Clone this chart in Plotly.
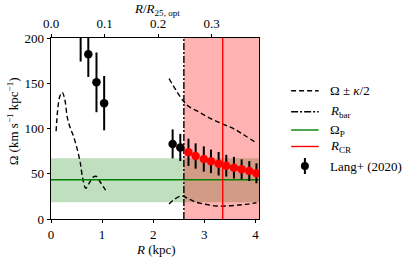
import plotly.graph_objects as go

# ---------------- data ----------------
inner_R = [0.10, 0.13, 0.17, 0.22, 0.27, 0.32, 0.38, 0.43, 0.50, 0.57, 0.62, 0.68, 0.75, 0.82, 0.89, 0.95, 1.02, 1.09]
inner_omega = [97, 120, 135, 140, 132, 112, 100, 93, 80, 63, 45, 34, 40, 46, 47, 42, 36, 30]

upper_R = [2.31, 2.45, 2.58, 2.68, 2.90, 3.16, 3.40, 3.60, 3.80, 4.02]
upper_omega = [155, 142, 131, 125, 118, 110, 104, 99, 92, 84]

lower_R = [2.31, 2.42, 2.56, 2.70, 2.84, 3.05, 3.23, 3.45, 3.68, 3.85, 4.02]
lower_omega = [16.6, 22, 25.4, 22, 18.5, 16, 14.4, 14.5, 15.5, 16.5, 18]

lang_black_R = [0.58, 0.73, 0.89, 1.04, 2.38, 2.53]
lang_black_omega = [212, 182, 151, 128, 83, 79]
lang_black_err = [38, 25, 33, 30, 16, 15]

lang_red_R = [2.69, 2.83, 2.99, 3.13, 3.28, 3.43, 3.58, 3.73, 3.88, 4.02]
lang_red_omega = [73.7, 69.6, 66.3, 63.7, 61.1, 58.9, 56.7, 54.9, 53.0, 50.5]
lang_red_err = [15, 14, 14, 13, 13, 12, 12, 11, 11, 11]

R_bar = 2.6
R_CR = 3.36
Omega_P = 43.4
Omega_P_low = 18.4
Omega_P_high = 67.0
R25_opt = 10.47

x_range = [0, 4.07]
y_range = [0, 200]
x_ticks = [0, 1, 2, 3, 4]
y_ticks = [0, 50, 100, 150, 200]
top_ticks = [0.0, 0.1, 0.2, 0.3]
top_tick_labels = ["0.0", "0.1", "0.2", "0.3"]

legend_labels = ["Ω ± <i>κ</i>/2", "<i>R</i><sub>bar</sub>", "Ω<sub>P</sub>", "<i>R</i><sub>CR</sub>", "Lang+ (2020)"]

FONT = "Liberation Serif, Times New Roman, serif"
FS = 13

W, H = 415, 261
ML, MR, MT, MB = 51, 155.5, 38, 42
pw, ph = W - ML - MR, H - MT - MB


def px(xp):
    return (xp - ML) / pw


def py(yp):
    return (H - MB - yp) / ph


fig = go.Figure()

# shaded regions
fig.add_shape(type="rect", xref="x", yref="y", x0=x_range[0], x1=x_range[1],
              y0=Omega_P_low, y1=Omega_P_high, fillcolor="rgba(0,128,0,0.25)",
              line_width=0, layer="below")
fig.add_shape(type="rect", xref="x", yref="y", x0=R_bar, x1=x_range[1],
              y0=y_range[0], y1=y_range[1], fillcolor="rgba(255,0,0,0.3)",
              line_width=0, layer="below")

dash_style = dict(color="black", width=1.4, dash="5px,3px")
fig.add_trace(go.Scatter(x=inner_R, y=inner_omega, mode="lines", line=dash_style, line_shape="spline", showlegend=False))
fig.add_trace(go.Scatter(x=upper_R, y=upper_omega, mode="lines", line=dash_style, line_shape="spline", showlegend=False))
fig.add_trace(go.Scatter(x=lower_R, y=lower_omega, mode="lines", line=dash_style, line_shape="spline", showlegend=False))

# Omega_P line
fig.add_trace(go.Scatter(x=x_range, y=[Omega_P, Omega_P], mode="lines",
                         line=dict(color="green", width=1.4), showlegend=False))
# R_bar
fig.add_trace(go.Scatter(x=[R_bar, R_bar], y=y_range, mode="lines",
                         line=dict(color="black", width=1.4, dash="7px,2px,2px,2px"), showlegend=False))
# R_CR
fig.add_trace(go.Scatter(x=[R_CR, R_CR], y=y_range, mode="lines",
                         line=dict(color="red", width=1.4), showlegend=False))

# Lang+ data
fig.add_trace(go.Scatter(x=lang_black_R, y=lang_black_omega, mode="markers",
                         marker=dict(color="black", size=8.5),
                         error_y=dict(type="data", array=lang_black_err, color="black", thickness=2, width=0),
                         showlegend=False))
fig.add_trace(go.Scatter(x=lang_red_R, y=lang_red_omega, mode="markers",
                         marker=dict(color="red", size=8.5),
                         error_y=dict(type="data", array=lang_red_err, color="black", thickness=2, width=0),
                         showlegend=False))

# top axis dummy trace
fig.add_trace(go.Scatter(x=[0], y=[0], xaxis="x2", mode="markers", marker=dict(opacity=0),
                         showlegend=False, hoverinfo="skip"))

axis_common = dict(showline=True, linecolor="black", linewidth=0.9, ticks="outside",
                   ticklen=3.5, tickwidth=0.9, tickcolor="black", showgrid=False, zeroline=False,
                   automargin=False,
                   tickfont=dict(family=FONT, size=FS, color="black"))

fig.update_layout(
    width=W, height=H,
    margin=dict(l=ML, r=MR, t=MT, b=MB, autoexpand=False),
    plot_bgcolor="white", paper_bgcolor="white",
    font=dict(family=FONT, size=FS, color="black"),
    showlegend=False,
    xaxis=dict(range=x_range, tickvals=x_ticks, mirror=True, **axis_common),
    yaxis=dict(range=y_range, tickvals=y_ticks, mirror=True, **axis_common),
    xaxis2=dict(range=[x_range[0] / R25_opt, x_range[1] / R25_opt], overlaying="x", side="top",
                tickvals=top_ticks, ticktext=top_tick_labels, anchor="y", **axis_common),
)

fig.add_annotation(text="<i>R</i> (kpc)", xref="paper", yref="paper", x=px(156), y=py(249),
                   showarrow=False, font=dict(family=FONT, size=FS), xanchor="center", yanchor="middle")
fig.add_annotation(text="<i>R</i>/<i>R</i><sub>25, opt</sub>", xref="paper", yref="paper", x=px(157.5), y=py(9),
                   showarrow=False, font=dict(family=FONT, size=FS), xanchor="center", yanchor="middle")
fig.add_annotation(text="Ω (km s<sup>−1</sup> kpc<sup>−1</sup>)", xref="paper", yref="paper", x=px(12.5), y=py(121.7),
                   textangle=-90, showarrow=False, font=dict(family=FONT, size=FS), xanchor="center", yanchor="middle")

# manual legend
legend_y = [90.7, 111.7, 130, 146.5, 166]
lx0, lx1, ltx = 291.7, 319.3, 329
styles = [dict(color="black", width=1.4, dash="5px,3px"),
          dict(color="black", width=1.4, dash="7px,2px,2px,2px"),
          dict(color="green", width=1.4),
          dict(color="red", width=1.4)]
for i, st in enumerate(styles):
    fig.add_shape(type="line", xref="paper", yref="paper", x0=px(lx0), x1=px(lx1),
                  y0=py(legend_y[i]), y1=py(legend_y[i]), line=st)
cx = (lx0 + lx1) / 2
fig.add_shape(type="line", xref="paper", yref="paper", x0=px(cx), x1=px(cx),
              y0=py(legend_y[4] - 8), y1=py(legend_y[4] + 8), line=dict(color="black", width=2))
fig.add_shape(type="circle", xref="paper", yref="paper", x0=px(cx - 4), x1=px(cx + 4),
              y0=py(legend_y[4] + 4), y1=py(legend_y[4] - 4), fillcolor="black",
              line=dict(color="black", width=0))
for i, lab in enumerate(legend_labels):
    fig.add_annotation(text=lab, xref="paper", yref="paper", x=px(ltx), y=py(legend_y[i]),
                       xanchor="left", yanchor="middle", showarrow=False,
                       font=dict(family=FONT, size=FS, color="black"))

fig.write_html("out.html", config={"displayModeBar": False},
               post_script="document.body.style.margin='0px';")
